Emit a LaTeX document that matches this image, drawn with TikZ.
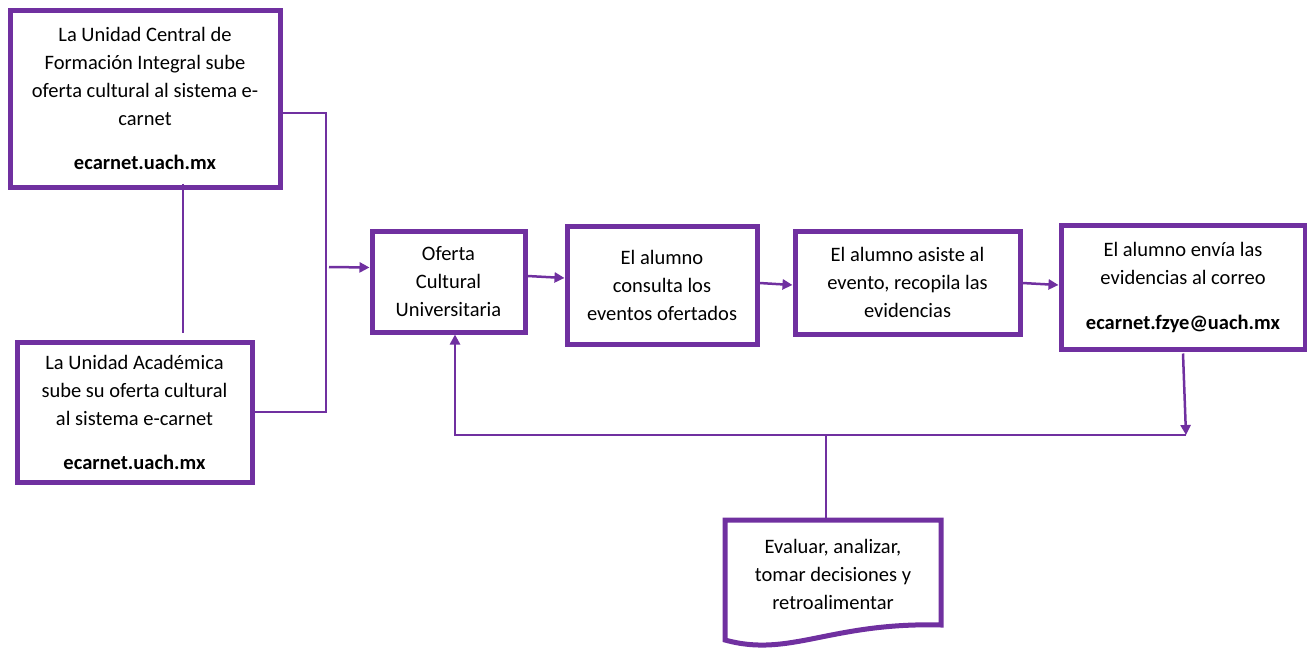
\documentclass[tikz,border=0pt]{standalone}
\usepackage{fontspec}
\setmainfont{Carlito}
\usetikzlibrary{positioning,arrows.meta,calc}
\definecolor{uachpurple}{RGB}{112,48,160}

\begin{document}
\begin{tikzpicture}[x=1pt,y=-1pt,
  font=\fontsize{20.5}{28}\selectfont,
  box/.style={draw=uachpurple,line width=5pt,align=center,inner sep=0pt},
  conn/.style={draw=uachpurple,line width=2.5pt},
  arr/.style={conn,-{Triangle[length=10pt,width=10pt]}}]
\useasboundingbox (0,0) rectangle (1307,648);

\node[box,minimum width=270pt,minimum height=177pt] (central) at (145,98.5) {La Unidad Central de\\Formación Integral sube\\oferta cultural al sistema e-\\carnet\\[16pt]\textbf{ecarnet.uach.mx}};

\node[box,minimum width=235pt,minimum height=140pt] (academica) at (134.5,412) {La Unidad Académica\\sube su oferta cultural\\al sistema e-carnet\\[16pt]\textbf{ecarnet.uach.mx}};

\node[box,minimum width=153pt,minimum height=101pt] (oferta) at (448.5,281.5) {Oferta\\Cultural\\Universitaria};

\node[box,minimum width=190pt,minimum height=118pt] (consulta) at (662,285) {El alumno\\consulta los\\eventos ofertados};

\node[box,minimum width=225pt,minimum height=103pt] (asiste) at (907.5,282.5) {El alumno asiste al\\evento, recopila las\\evidencias};

\node[box,minimum width=244pt,minimum height=124pt] (envia) at (1183,287) {El alumno envía las\\evidencias al correo\\[17pt]\textbf{ecarnet.fzye@uach.mx}};

% documento de retroalimentacion
\node[align=center,inner sep=0pt] (evaluar) at (833,574) {Evaluar, analizar,\\tomar decisiones y\\retroalimentar};
\draw[draw=uachpurple,line width=5pt,line join=miter]
  (725,640) -- (725,520) -- (941,520) -- (941,625)
  .. controls (830,622) and (790,658) .. (725,640) -- cycle;

\coordinate (joinTop) at (326,113);
\coordinate (joinBot) at (326,412);
\coordinate (joinMid) at (329,267);
\coordinate (fbRight) at (1186,435);
\coordinate (fbLeft) at (455,435);
\coordinate (fbMid) at (826,435);
\coordinate (docTop) at (826,518);

\draw[conn] ([xshift=38pt]central.south) ++(0,-6) -- ([xshift=48.5pt,yshift=7pt]academica.north);
\draw[conn] ([yshift=-14.5pt]central.east) -- (joinTop) -- (joinBot) -- (academica.east);
\draw[arr] (joinMid) -- ([yshift=14pt]oferta.west);

\draw[arr] ([yshift=5.5pt]oferta.east) -- ([yshift=7pt]consulta.west);
\draw[arr] ([yshift=2pt]consulta.east) -- ([yshift=-2.5pt]asiste.west);
\draw[arr] ([yshift=-0.5pt]asiste.east) -- ([yshift=2pt]envia.west);

\draw[arr] ([yshift=-2pt]envia.south) -- (fbRight);
\draw[arr] (fbRight) -- (fbLeft) -- (oferta.south -| fbLeft);
\draw[conn] (fbMid) -- (docTop);

\end{tikzpicture}
\end{document}
